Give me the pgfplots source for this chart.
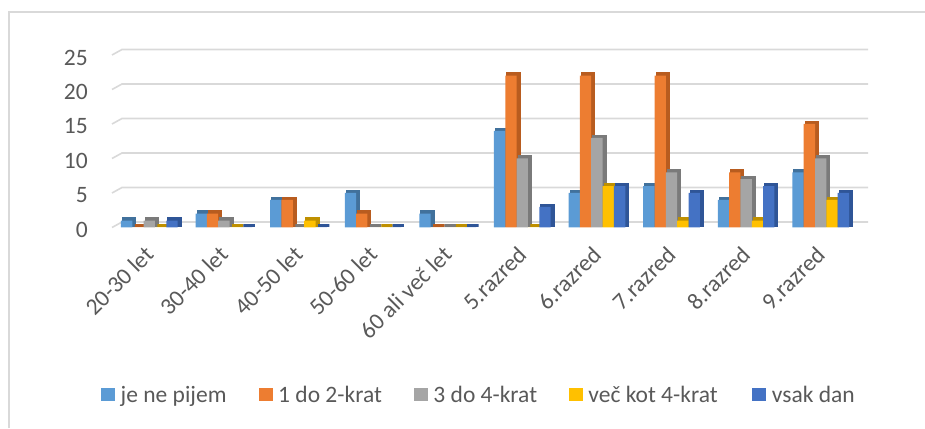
\documentclass[border=0pt]{standalone}
\usepackage{fontspec}
\setmainfont{Carlito}
\usepackage{pgfplots}
\usepackage{pgfplotstable}
\pgfplotsset{compat=1.18}

\definecolor{txt}{HTML}{595959}
\definecolor{gridc}{HTML}{D9D9D9}
\definecolor{cA}{HTML}{5B9BD5}\definecolor{dA}{HTML}{41719C}
\definecolor{cB}{HTML}{ED7D31}\definecolor{dB}{HTML}{B85C1F}
\definecolor{cC}{HTML}{A5A5A5}\definecolor{dC}{HTML}{7A7A7A}
\definecolor{cD}{HTML}{FFC000}\definecolor{dD}{HTML}{BF9000}
\definecolor{cE}{HTML}{4472C4}\definecolor{dE}{HTML}{2F5597}

% number of answers per group (x = category index)
\pgfplotstableread{
x  a  b  c  d  e
0  1  0  1  0  1
1  2  2  1  0  0
2  4  4  0  1  0
3  5  2  0  0  0
4  2  0  0  0  0
5  14 22 10 0  3
6  5  22 13 6  6
7  6  22 8  1  5
8  4  8  7  1  6
9  8  15 10 4  5
}\data

\pgfplotsset{
  frontbar/.style={ybar, bar width=0.152, draw=none, fill=#1,
    legend image code/.code={\fill[#1] (0pt,-6.5pt) rectangle (14pt,6.5pt);}},
  % darker copy behind each bar: gives the side face and the top cap
  sidebar/.style={ybar, bar width=0.152, fill=#1, draw=#1, line width=3pt,
    line join=miter, xshift=2.5pt, yshift=1.75pt, forget plot},
}

\begin{document}
\begin{tikzpicture}
\path[use as bounding box] (0,0) rectangle (925pt,428pt);
\draw[gridc, line width=1.2pt] (9pt,0) -- (9pt,416pt) -- (925pt,416pt);
\begin{axis}[
  at={(112pt,200.5pt)}, anchor=south west,
  scale only axis, width=746pt, height=172.5pt,
  xmin=-0.5, xmax=9.5, ymin=0, ymax=25,
  clip=false,
  axis line style={draw=none}, major tick style={draw=none},
  ytick={0,5,...,25},
  xtick={0,...,9},
  xticklabels={20-30 let,30-40 let,40-50 let,50-60 let,60 ali več let,
    5.razred,6.razred,7.razred,8.razred,9.razred},
  /pgf/number format/assume math mode=true,
  tick label style={font=\fontsize{23.5}{27}\selectfont, text=txt},
  yticklabel style={inner sep=0pt, xshift=-24pt, yshift=-2.5pt},
  xticklabel style={inner sep=0pt, xshift=0pt, yshift=-23pt, rotate=45, anchor=east},
  legend columns=5,
  legend cell align=left,
  legend style={at={(axis description cs:-0.0147,-0.971)}, anchor=west,
    draw=none, fill=none, inner sep=0pt,
    font=\fontsize{23.5}{27}\selectfont, text=txt,
    nodes={inner sep=0pt},
    /tikz/every odd column/.append style={column sep=5.5pt},
    /tikz/every even column/.append style={column sep=0pt}},
]
% back-wall gridlines with their short slanted floor edge
\pgfplotsinvokeforeach{0,5,10,15,20,25}{
  \draw[gridc, line width=1.6pt] (axis cs:-0.5,#1)
    -- ([shift={(10pt,5.5pt)}]axis cs:-0.5,#1)
    -- ([shift={(10pt,5.5pt)}]axis cs:9.5,#1);
}
\addplot[sidebar=dA, bar shift=-0.304] table[x=x,y=a]{\data};
\addplot[frontbar=cA, bar shift=-0.304] table[x=x,y=a]{\data};
\addlegendentry{\makebox[138pt][l]{je ne pijem}}
\addplot[sidebar=dB, bar shift=-0.152] table[x=x,y=b]{\data};
\addplot[frontbar=cB, bar shift=-0.152] table[x=x,y=b]{\data};
\addlegendentry{\makebox[135.7pt][l]{1 do 2-krat}}
\addplot[sidebar=dC, bar shift=0] table[x=x,y=c]{\data};
\addplot[frontbar=cC, bar shift=0] table[x=x,y=c]{\data};
\addlegendentry{\makebox[135.5pt][l]{3 do 4-krat}}
\addplot[sidebar=dD, bar shift=0.152] table[x=x,y=d]{\data};
\addplot[frontbar=cD, bar shift=0.152] table[x=x,y=d]{\data};
\addlegendentry{\makebox[164pt][l]{več kot 4-krat}}
\addplot[sidebar=dE, bar shift=0.304] table[x=x,y=e]{\data};
\addplot[frontbar=cE, bar shift=0.304] table[x=x,y=e]{\data};
\addlegendentry{vsak dan}
\end{axis}
\end{tikzpicture}
\end{document}
